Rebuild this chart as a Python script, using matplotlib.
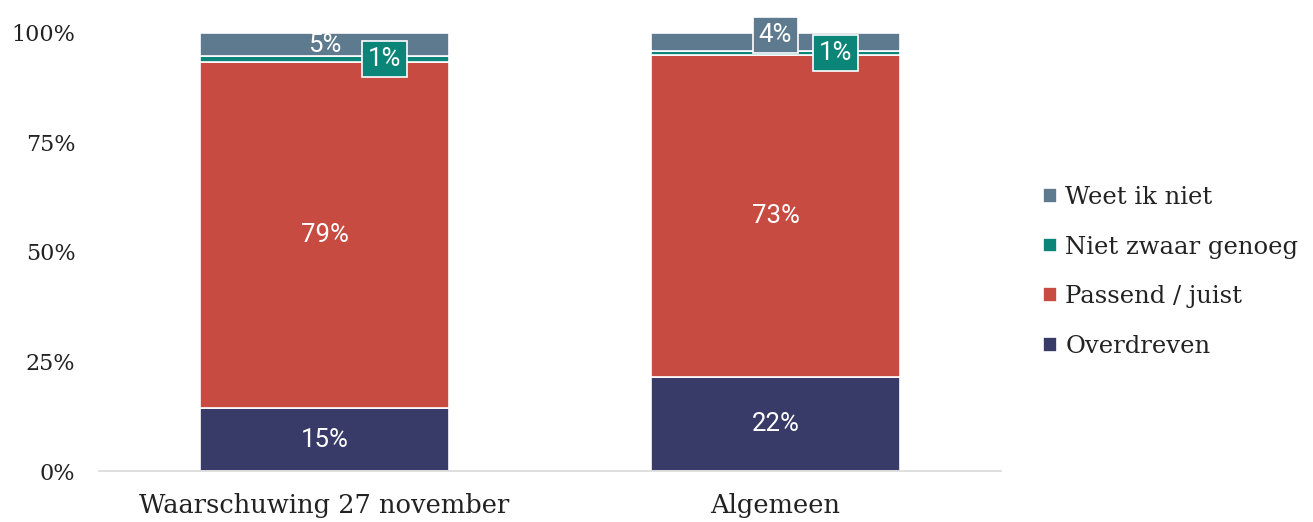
import matplotlib
matplotlib.use("Agg")
import matplotlib.pyplot as plt
import numpy as np

categories = ["Waarschuwing 27 november", "Algemeen"]
series_names = ["Overdreven", "Passend / juist", "Niet zwaar genoeg", "Weet ik niet"]
overdreven = [14.3, 21.5]
passend = [79.1, 73.5]
niet_zwaar = [1.3, 0.9]
weet_niet = [5.3, 4.1]
labels_overdreven = ["15%", "22%"]
labels_passend = ["79%", "73%"]
labels_niet = ["1%", "1%"]
labels_weet = ["5%", "4%"]
y_ticks = [0, 25, 50, 75, 100]
y_ticklabels = ["0%", "25%", "50%", "75%", "100%"]

colors = {"Overdreven": "#383b67", "Passend / juist": "#c84b42",
          "Niet zwaar genoeg": "#0a8577", "Weet ik niet": "#5e7a8e"}

serif = ["DejaVu Serif"]
label_font = ["Roboto", "DejaVu Sans"]
LFS = 18.5

fig = plt.figure(figsize=(13.13, 5.22), dpi=100)
ax = fig.add_axes([0.0754, 0.0977, 0.6870, 0.8391])

x = np.arange(len(categories))
w = 0.55
data = [overdreven, passend, niet_zwaar, weet_niet]
bottoms = np.zeros(len(categories))
handles = []
for name, vals in zip(series_names, data):
    b = ax.bar(x, vals, w, bottom=bottoms, color=colors[name], edgecolor="white",
               linewidth=1.2, label=name)
    handles.append(b)
    bottoms = bottoms + np.array(vals)

for i in range(2):
    ax.text(x[i], overdreven[i] / 2, labels_overdreven[i], ha="center", va="center",
            color="white", fontsize=LFS, family=label_font)
    ax.text(x[i], overdreven[i] + passend[i] / 2, labels_passend[i], ha="center", va="center",
            color="white", fontsize=LFS, family=label_font)
    ymid_n = overdreven[i] + passend[i] + niet_zwaar[i] / 2
    ax.text(x[i] + 0.133, ymid_n, labels_niet[i], ha="center", va="center",
            color="white", fontsize=LFS, family=label_font,
            bbox=dict(boxstyle="square,pad=0.22", facecolor=colors["Niet zwaar genoeg"],
                      edgecolor="white", linewidth=1.2))
    ymid_w = overdreven[i] + passend[i] + niet_zwaar[i] + weet_niet[i] / 2
    if i == 0:
        ax.text(x[i], ymid_w, labels_weet[i], ha="center", va="center",
                color="white", fontsize=LFS, family=label_font)
    else:
        ax.annotate(labels_weet[i], (x[i], ymid_w), xytext=(0, 5), textcoords="offset points",
                    ha="center", va="center", color="white", fontsize=LFS, family=label_font,
                    bbox=dict(boxstyle="square,pad=0.22", facecolor=colors["Weet ik niet"],
                              edgecolor="white", linewidth=1.2))

ax.set_xlim(-0.5, 1.5)
ax.set_ylim(0, 100)
ax.set_yticks(y_ticks)
ax.set_yticklabels(y_ticklabels, family=serif, fontsize=16, color="#222222")
ax.set_xticks(x)
ax.set_xticklabels(categories, family=serif, fontsize=18.5, color="#222222")
ax.tick_params(axis="both", length=0)
ax.tick_params(axis="x", pad=16)
ax.tick_params(axis="y", pad=17)
for s in ["top", "right", "left"]:
    ax.spines[s].set_visible(False)
ax.spines["bottom"].set_color("#d9d9d9")
ax.spines["bottom"].set_linewidth(1.2)

leg = fig.legend(handles[::-1], series_names[::-1], loc="center left",
                 bbox_to_anchor=(0.778, 0.479), frameon=False,
                 prop={"family": serif, "size": 17.5}, handlelength=0.55, handleheight=0.55,
                 handletextpad=0.35, labelspacing=1.1)
for t in leg.get_texts():
    t.set_color("#222222")

fig.savefig("out.png", dpi=100)
